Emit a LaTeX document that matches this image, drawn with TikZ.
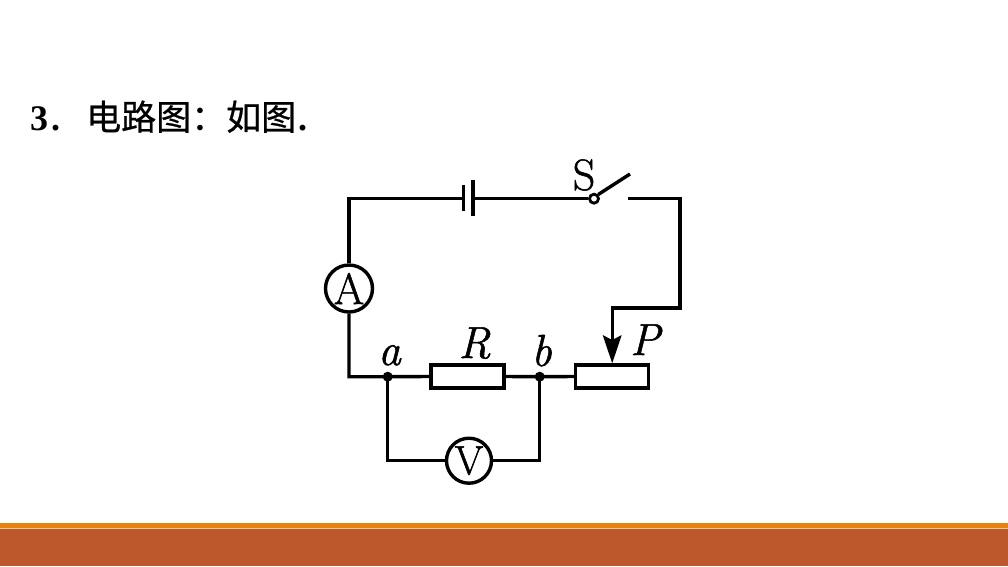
\documentclass[tikz,border=0pt]{standalone}
\usepackage{fontspec}
\newfontfamily\lib{Liberation Serif}
\newfontfamily\cjk[FakeBold=0.7]{Noto Sans CJK SC}
\newfontfamily\lmfat[FakeBold=1.2]{Latin Modern Roman}
\definecolor{barorange}{HTML}{E48312}
\definecolor{barbrown}{HTML}{BD582C}
\definecolor{barline}{HTML}{F3C98B}
\tikzset{
  wire/.style={draw=black,line width=3.4pt,line join=miter},
  meter/.style={circle,draw=black,line width=3.4pt,fill=white,inner sep=0pt},
  resbox/.style={rectangle,draw=black,line width=3.4pt,fill=white,inner sep=0pt,minimum width=73pt,minimum height=23pt},
  joint/.style={circle,fill=black,inner sep=0pt,minimum size=10pt},
  lbl/.style={inner sep=0pt,text=black},
  big/.style={font=\fontsize{44}{44}\selectfont\lmfat},
  ital/.style={font=\fontsize{45}{45}\selectfont\lmfat\itshape},
  headlat/.style={font=\fontsize{36}{36}\selectfont\lib\bfseries}
}
\begin{document}
\begin{tikzpicture}[x=1pt,y=-1pt]
\useasboundingbox (0,0) rectangle (1008,566);
\fill[white] (0,0) rectangle (1008,566);
\fill[barorange] (0,523.3) rectangle (1008,528);
\fill[barline] (0,528) rectangle (1008,528.8);
\fill[barbrown] (0,528.8) rectangle (1008,566);
% heading
\node[lbl,anchor=base west,headlat] (num) at (30,130) {3};
\node[lbl,anchor=base west,headlat] (dot1) at (51,130) {.};
\node[lbl,anchor=base west,font=\fontsize{35}{35}\selectfont\cjk] (head) at (86,130) {电路图：如图};
\node[lbl,anchor=base west,headlat] (dot2) at (298,130) {.};
% corners
\coordinate (tl) at (349,198.7);
\coordinate (bl) at (349,376.7);
\coordinate (tr) at (680,198.7);
\coordinate (mr) at (680,308);
\coordinate (ml) at (612.2,308);
\coordinate (batL) at (463.7,198.7);
\coordinate (batR) at (473,198.7);
\coordinate (batLa) at (463.7,185);
\coordinate (batLb) at (463.7,211);
\coordinate (batRa) at (473,180);
\coordinate (batRb) at (473,216);
\coordinate (swEnd) at (630,174);
\coordinate (cont) at (628,198.7);
\coordinate (vl) at (387.7,460.7);
\coordinate (vr) at (539.7,460.7);
\coordinate (arrowStem) at (612.2,340);
\coordinate (arrowL) at (602.7,335);
\coordinate (arrowR) at (621.7,335);
% components
\node[meter,minimum size=47pt,font=\fontsize{44}{44}\selectfont\lmfat] (A) at (349,288.5) {A};
\node[meter,minimum size=45pt,font=\fontsize{41}{41}\selectfont\lmfat] (V) at (469,460.7) {V};
\node[resbox] (R) at (467.5,376.5) {};
\node[resbox] (Rh) at (612.2,376.5) {};
\node[joint] (a) at (387.7,376.7) {};
\node[joint] (b) at (539.7,376.7) {};
\node[circle,draw=black,line width=2.8pt,fill=white,inner sep=0pt,minimum size=9pt] (sw) at (594,198.7) {};
% wires
\draw[wire] (batL) -- (tl) -- (A.north);
\draw[wire] (A.south) -- (bl) -- (a.center) -- (R.west);
\draw[wire] (R.east) -- (b.center) -- (Rh.west);
\draw[wire] (a.center) -- (vl) -- (V.west);
\draw[wire] (V.east) -- (vr) -- (b.center);
\draw[wire] (batLa) -- (batLb);
\draw[wire] (batRa) -- (batRb);
\draw[wire] (batR) -- (sw.west);
\draw[wire] (sw.north east) -- (swEnd);
\draw[wire] (cont) -- (tr) -- (mr) -- (ml) -- (arrowStem);
\draw[draw=none,fill=black] (Rh.north) -- (arrowL) -- (arrowStem) -- (arrowR) -- cycle;
% labels
\node[lbl,big,anchor=base] (S) at (584,190) {S};
\node[lbl,ital,anchor=base] (la) at (389.5,365) {a};
\node[lbl,ital,anchor=base] (lR) at (474.5,358) {R};
\node[lbl,ital,anchor=base] (lb) at (541.5,366) {b};
\node[lbl,ital,anchor=base] (lP) at (645,355) {P};
\end{tikzpicture}
\end{document}
